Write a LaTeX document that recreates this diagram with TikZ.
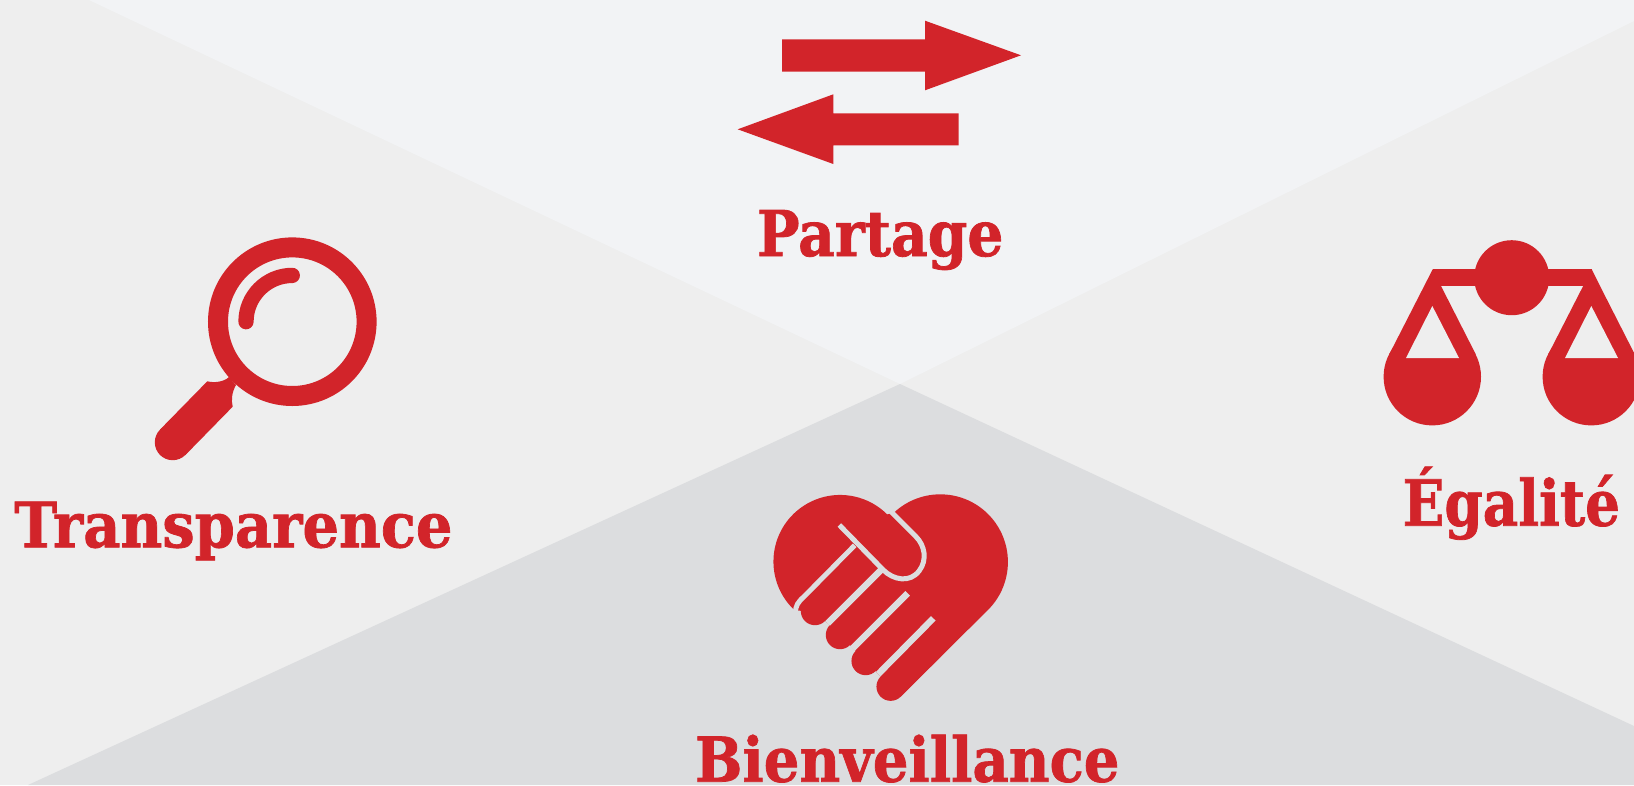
\documentclass[tikz,border=0pt]{standalone}
\usepackage{graphicx}
\usepackage{fontspec}
\setmainfont{DejaVu Serif}[BoldFeatures={FakeBold=1.2}]
\definecolor{rouge}{HTML}{D2242A}
\definecolor{bgtop}{HTML}{F2F3F5}
\definecolor{bgside}{HTML}{EEEEEE}
\definecolor{bgbot}{HTML}{DCDDDF}
\tikzset{
  ink/.style={fill=rouge,draw=none},
  label/.style={inner sep=0pt,outer sep=0pt,anchor=base west,text=rouge,font=\bfseries},
  finger/.style={draw=rouge,line width=28.4pt,line cap=round},
  slit/.style={draw=bgbot,line width=6.4pt},
  seam/.style={draw=bgbot,line width=5pt},
}
\begin{document}
\begin{tikzpicture}[x=1pt,y=-1pt]
\useasboundingbox (0,0) rectangle (1634,785);
\clip (0,0) rectangle (1634,785);
% background
\fill[bgside] (0,0) rectangle (1634,785);
\fill[bgtop] (89,0) -- (900,384) -- (1634,21) -- (1634,0) -- cycle;
\fill[bgbot] (28,785) -- (900,384) -- (1634,726) -- (1634,785) -- cycle;
% exchange arrows
\fill[ink] (782,39.3) -- (925,39.3) -- (925,20.7) -- (1021,55.3) -- (925,90.3) -- (925,71.7) -- (782,71.7) -- cycle;
\fill[ink] (737.7,129.3) -- (833.3,94.3) -- (833.3,113.3) -- (958.7,113.3) -- (958.7,145.3) -- (833.3,145.3) -- (833.3,164) -- cycle;
\node[label] (partage) at (757,256) {\resizebox{246.3pt}{46pt}{Partage}};
% magnifier
\draw[rouge,line width=20pt] (292.3,321.7) circle[radius=74.3];
\draw[rouge,line width=15.3pt,line cap=round] (292.3,275.4) .. controls (266.7,275.4) and (246,296.1) .. (246,321.7);
\fill[ink] (207.3,381.3) .. controls (214,383) and (224,382) .. (229,377) -- (236,385) .. controls (232,392) and (231,400) .. (232.7,406.7) -- (185.4,455) -- (160,429.6) -- cycle;
\fill[ink] (172.7,442.3) circle[radius=17.9];
\node[label] (transparence) at (14.3,547.3) {\resizebox{438pt}{45.6pt}{Transparence}};
% scales
\fill[ink] (1511.7,277.7) circle[radius=37.5];
\fill[ink] (1432.7,269.3) rectangle (1591.7,286);
\foreach \d in {0,159}{
  \fill[ink,shift={(\d,0)}] (1432.7,269.3) -- (1389.1,354.6) -- (1475.9,354.6) -- (1441,286) -- cycle;
  \fill[ink,shift={(\d,0)}] (1432.3,376.7) circle[radius=48.7];
  \fill[bgside,shift={(\d,0)}] (1432.3,306) -- (1406,358) -- (1459,358) -- cycle;
}
\node[label] (egalite) at (1402.7,525.7) {\resizebox{217.3pt}{59pt}{Égalité}};
% heart
\begin{scope}[shift={(680,480)},x=0.3333pt,y=-0.3333pt]
  \fill[ink] (345,392) arc[start angle=132.6,end angle=315,radius=200]
    -- (643,97) arc[start angle=227.2,end angle=407.4,radius=203]
    -- (662,650) -- (632,620) -- (557,543) -- (480,465) -- (405,393) -- cycle;
  \draw[finger] (632,620) -- (750,502);
  \draw[finger] (557,543) -- (660,440);
  \draw[finger] (480,465) -- (590,355);
  \draw[finger] (405,393) -- (520,278);
  \draw[slit] (683,340) -- (518,505);
  \draw[slit] (760,415) -- (595,582);
  \draw[slit] (605,268) -- (443,430);
  \draw[seam] (478,135) -- (610,270) .. controls (640,300) and (690,310) .. (718,272) .. controls (742,240) and (735,197) .. (708,170) -- (620,82);
  \draw[seam] (524,196) -- (372,350) .. controls (355,365) and (345,378) .. (347,400);
\end{scope}
\node[label] (bienveillance) at (695,781.7) {\resizebox{424.3pt}{47pt}{Bienveillance}};
\end{tikzpicture}
\end{document}
